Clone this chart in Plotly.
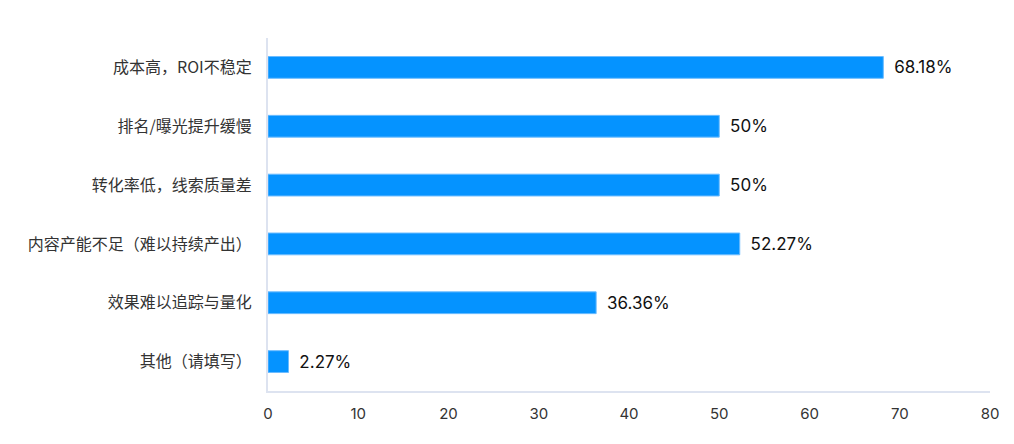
import plotly.graph_objects as go

categories = ["成本高，ROI不稳定", "排名/曝光提升缓慢", "转化率低，线索质量差",
              "内容产能不足（难以持续产出）", "效果难以追踪与量化", "其他（请填写）"]
values = [68.18, 50, 50, 52.27, 36.36, 2.27]
labels = ["68.18%", "50%", "50%", "52.27%", "36.36%", "2.27%"]
x_ticks = [0, 10, 20, 30, 40, 50, 60, 70, 80]

fig = go.Figure(go.Bar(
    y=categories, x=values, orientation="h",
    text=["\u2009 " + s for s in labels], textposition="outside",
    textfont=dict(size=17, color="#111111", family="Inter, Noto Sans CJK SC"),
    cliponaxis=False,
    marker=dict(color="#0593FF", line=dict(color="#6cbcff", width=1)),
    width=0.37,
))
fig.update_layout(
    width=1006, height=436,
    margin=dict(l=260, r=24, t=30, b=53),
    paper_bgcolor="white", plot_bgcolor="white",
    showlegend=False,
    font=dict(family="Noto Sans CJK SC, Inter, sans-serif", size=15, color="#333333"),
)
fig.update_yaxes(
    autorange="reversed", showgrid=False, zeroline=False,
    showline=True, linecolor="#dde3f0", linewidth=2,
    ticks="", ticklabelstandoff=11,
    tickfont=dict(size=16, color="#333333"),
)
fig.update_xaxes(
    range=[0, 80], tickvals=x_ticks, showgrid=False, zeroline=False,
    showline=True, linecolor="#dde3f0", linewidth=2,
    ticks="", ticklabelstandoff=8,
    tickfont=dict(size=15, color="#333333", family="Inter, Noto Sans"),
)
fig.write_html("out.html")
